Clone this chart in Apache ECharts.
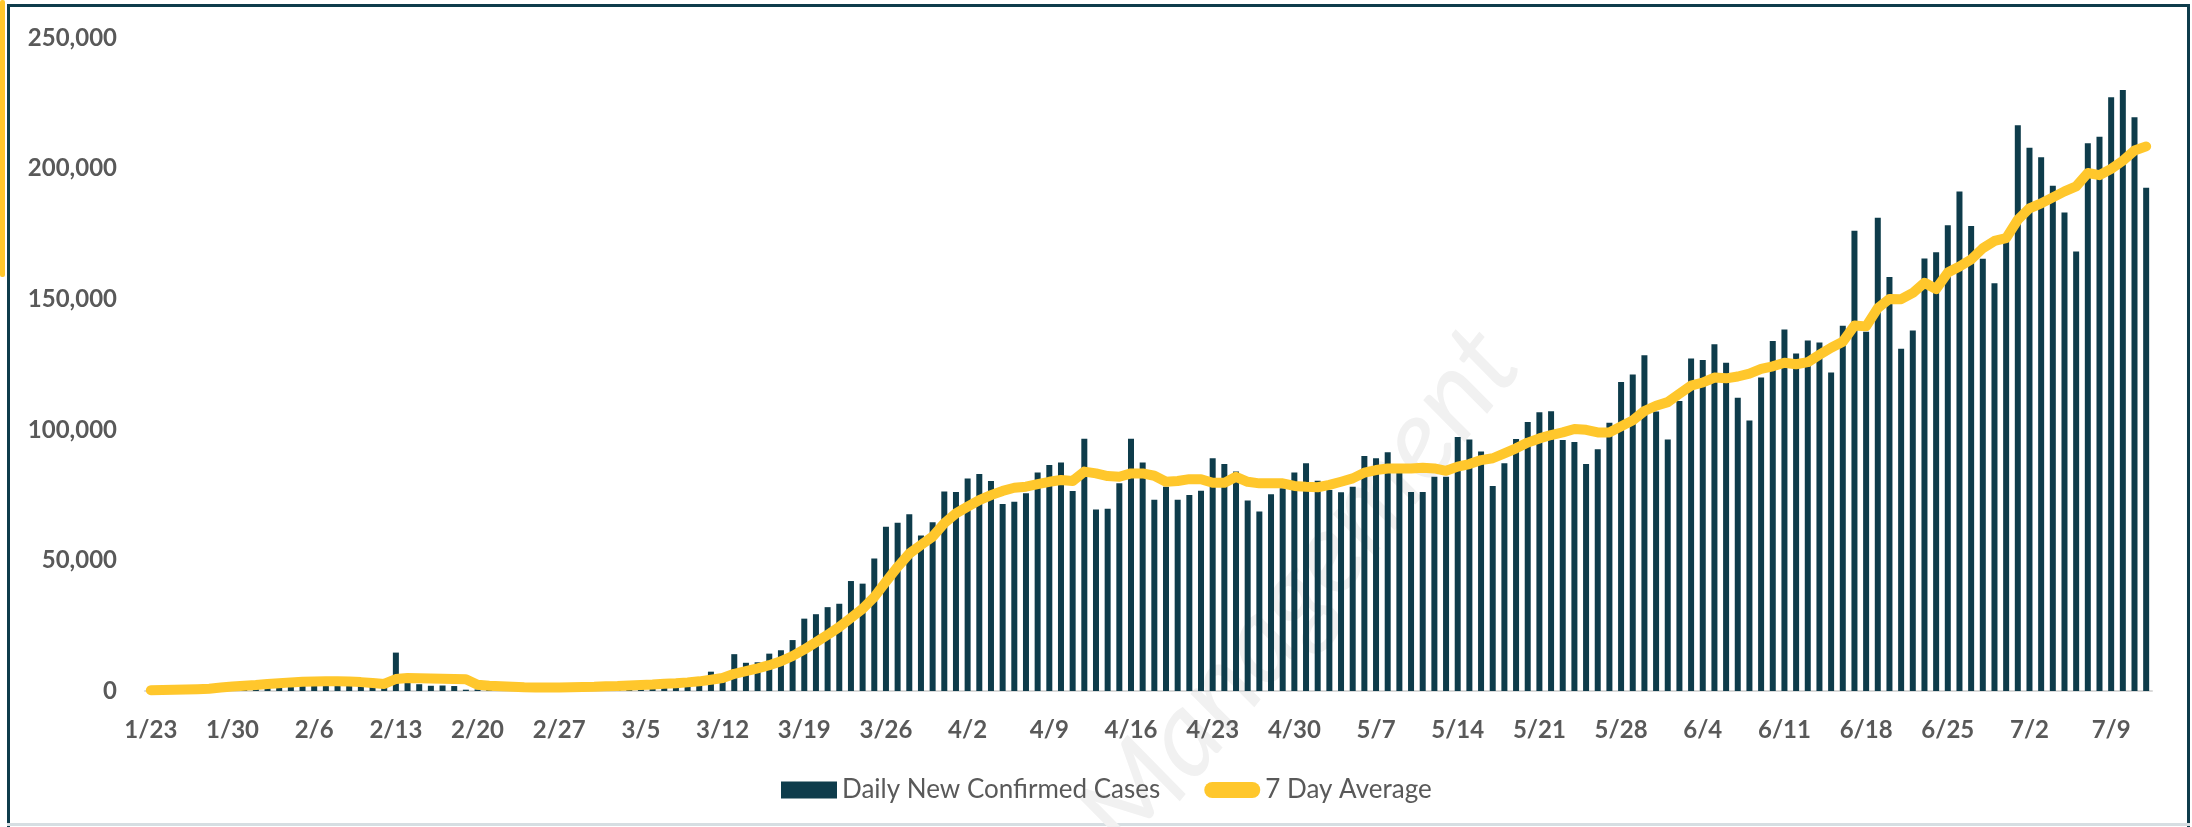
<html>
  <head>
    <meta charset="utf-8">
    <script src="https://cdn.jsdelivr.net/npm/echarts@6/dist/echarts.min.js"></script>
    <style>
      body { margin: 0; background: #fff; }
    </style>
  </head>
  <body>
    <div id="main" style="width:2192px;height:827px;"></div>
    <script>
      // daily series start on 1/23 (2020), one value per day
      var startMonth = 1, startDay = 23, dayCount = 172;
      var monthDays = [31, 29, 31, 30, 31, 30, 31];

      var dailyCases = [
        100, 290, 490, 680, 810, 2000, 1700, 1750, 2000, 2100,
        4000, 3100, 3900, 3700, 3200, 3400, 2700, 3000, 2500, 2000,
        1800, 14700, 5000, 2600, 2000, 2100, 1900, 500, 600, 1000,
        1100, 700, 500, 1000, 1200, 1400, 1800, 2000, 1800, 2400,
        1900, 2300, 2800, 3300, 3900, 3900, 4000, 4500, 7400, 6500,
        14100, 10800, 11000, 14300, 15600, 19500, 27700, 29400, 32100, 33400,
        42100, 41100, 50700, 62900, 64400, 67700, 59500, 64600, 76400, 76200,
        81400, 83100, 80400, 71600, 72500, 75700, 83700, 86500, 87500, 76600,
        96600, 69500, 69800, 79500, 96600, 87500, 73200, 78200, 73200, 75000,
        76700, 89100, 86900, 84000, 72900, 68700, 75300, 77600, 83700, 87200,
        80500, 77000, 76100, 78200, 90000, 89100, 91400, 84000, 76200, 76200,
        82000, 82000, 97200, 96300, 91700, 78500, 87200, 96500, 103000, 106700,
        107100, 96100, 95300, 86900, 92600, 102700, 118300, 121200, 128500, 107000,
        96300, 111000, 127300, 126700, 132800, 125700, 112300, 103600, 120000, 134000,
        138400, 129200, 134200, 133400, 121900, 139800, 176200, 137500, 181200, 158500,
        131000, 138000, 165600, 168000, 178300, 191200, 178000, 165500, 156100, 172000,
        216600, 208000, 204300, 193400, 183200, 168300, 209700, 212200, 227300, 230100,
        219700, 192700
      ];

      var sevenDayAvg = [
        300, 350, 450, 550, 700, 900, 1300, 1700, 2000, 2300,
        2700, 3000, 3300, 3500, 3600, 3700, 3700, 3600, 3400, 3100,
        2700, 4600, 5000, 4900, 4800, 4700, 4600, 4500, 2400, 2000,
        1800, 1600, 1400, 1300, 1300, 1300, 1400, 1500, 1600, 1800,
        1900, 2100, 2300, 2500, 2800, 3000, 3300, 3700, 4300, 5000,
        6600, 7600, 8700, 9900, 11400, 13400, 15900, 18700, 21500, 24500,
        28000, 31500, 36000, 41800, 47500, 52600, 55900, 59100, 64200, 68000,
        70600, 73100, 75000, 76600, 77800, 78200, 79200, 80100, 80800, 80400,
        84000, 83300, 82300, 82000, 83300, 83300, 82400, 80100, 80400, 81100,
        81100, 79700, 79700, 82000, 80100, 79500, 79500, 79500, 78500, 78200,
        78000, 78900, 80100, 81400, 83600, 84600, 85200, 85200, 85200, 85500,
        85200, 84300, 85900, 86900, 88400, 89100, 91000, 92900, 95100, 96700,
        98000, 99000, 100300, 100000, 99000, 99000, 101300, 103600, 107200, 109200,
        110600, 113800, 116900, 118100, 120000, 119700, 120400, 121500, 123300, 124300,
        125700, 125100, 125900, 128700, 131400, 133700, 139900, 139600, 146600, 150100,
        150000, 152400, 156300, 153900, 160200, 162500, 165200, 169500, 172300, 173400,
        180400, 184800, 186700, 189000, 191300, 193200, 198300, 197500, 199900, 203000,
        206900, 208500
      ];

      var yTicks = [0, 50000, 100000, 150000, 200000, 250000];

      // m/d labels for each day
      var dates = [];
      var m = startMonth, d = startDay;
      for (var i = 0; i < dayCount; i++) {
        dates.push(m + '/' + d);
        d++;
        if (d > monthDays[m - 1]) { d = 1; m++; }
      }

      var teal = '#0e3c4b';
      var gold = '#ffc72c';
      var grey = '#595959';

      var myChart = echarts.init(document.getElementById('main'));
      var option = {
        animation: false,
        textStyle: { fontFamily: 'Lato' },
        graphic: [
          { type: 'rect', shape: { x: 7, y: 4, width: 2183, height: 3 }, style: { fill: teal } },
          { type: 'rect', shape: { x: 7, y: 4, width: 3, height: 823 }, style: { fill: teal } },
          { type: 'rect', shape: { x: 2187, y: 4, width: 3, height: 823 }, style: { fill: teal } },
          { type: 'rect', shape: { x: 7, y: 823, width: 2183, height: 3 }, style: { fill: '#d6dee2' } },
          { type: 'rect', shape: { x: 0, y: 0, width: 5, height: 277, r: 2 }, style: { fill: gold } },
          {
            type: 'text', x: 1300, y: 590, rotation: 0.9, z: 0,
            style: {
              text: 'Management', fontSize: 115, fontStyle: 'italic', fontFamily: 'Lato',
              fill: '#f1f1f1', align: 'center', verticalAlign: 'middle'
            }
          }
        ],
        grid: { left: 145, right: 40, top: 38, bottom: 136 },
        legend: {
          top: 772,
          left: 776,
          itemWidth: 56,
          itemHeight: 17,
          itemGap: 44,
          textStyle: { fontFamily: 'Lato', fontSize: 26, color: grey },
          data: [
            { name: 'Daily New Confirmed Cases', icon: 'rect' },
            { name: '7 Day Average', icon: 'path://M8,0 L48,0 A8,8 0 0 1 48,16 L8,16 A8,8 0 0 1 8,0 Z' }
          ]
        },
        xAxis: {
          type: 'category',
          data: dates,
          axisLine: { lineStyle: { color: '#d9d9d9', width: 2 } },
          axisTick: { show: false },
          axisLabel: {
            interval: 6,
            margin: 27,
            fontFamily: 'Lato',
            fontWeight: 'bold',
            fontSize: 24,
            color: grey
          }
        },
        yAxis: {
          type: 'value',
          min: yTicks[0],
          max: yTicks[yTicks.length - 1],
          interval: yTicks[1] - yTicks[0],
          splitLine: { show: false },
          axisLine: { show: false },
          axisTick: { show: false },
          axisLabel: {
            margin: 28,
            fontFamily: 'Lato',
            fontWeight: 'bold',
            fontSize: 24,
            color: grey,
            formatter: function (v) { return v.toLocaleString('en-US'); }
          }
        },
        series: [
          {
            name: 'Daily New Confirmed Cases',
            type: 'bar',
            data: dailyCases,
            barWidth: 6,
            itemStyle: { color: teal }
          },
          {
            name: '7 Day Average',
            type: 'line',
            data: sevenDayAvg,
            showSymbol: false,
            symbol: 'none',
            itemStyle: { color: gold },
            lineStyle: { color: gold, width: 10, cap: 'round', join: 'round' },
            z: 3
          }
        ]
      };

      myChart.setOption(option);
    </script>
  </body>
</html>
